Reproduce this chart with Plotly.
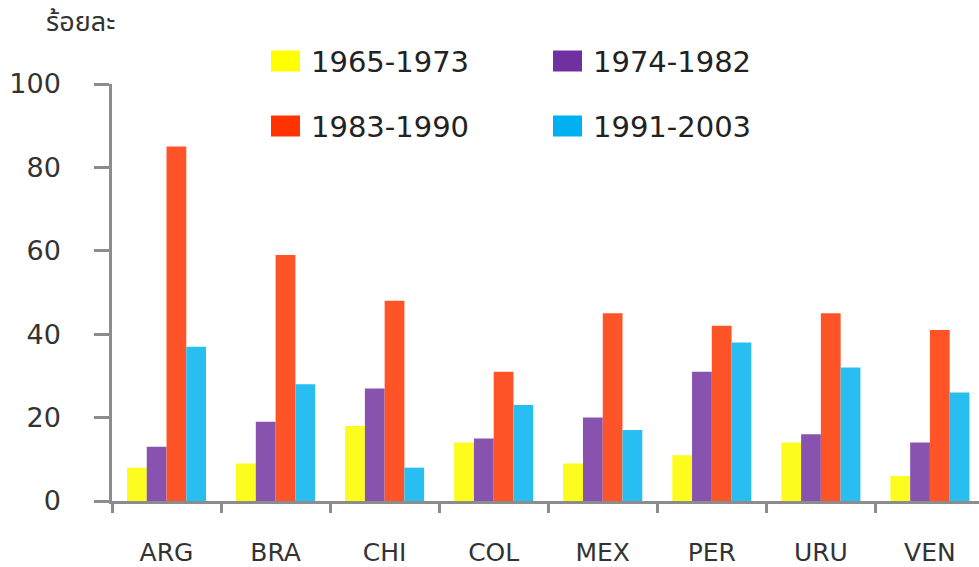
import plotly.graph_objects as go

categories = ["ARG", "BRA", "CHI", "COL", "MEX", "PER", "URU", "VEN"]
series_names = ["1965-1973", "1974-1982", "1983-1990", "1991-2003"]
v_1965_1973 = [8, 9, 18, 14, 9, 11, 14, 6]
v_1974_1982 = [13, 19, 27, 15, 20, 31, 16, 14]
v_1983_1990 = [85, 59, 48, 31, 45, 42, 45, 41]
v_1991_2003 = [37, 28, 8, 23, 17, 38, 32, 26]
y_ticks = [0, 20, 40, 60, 80, 100]
y_unit = "ร้อยละ"

series_values = [v_1965_1973, v_1974_1982, v_1983_1990, v_1991_2003]
bar_colors = ["#FCFC1E", "#8753AE", "#FF5428", "#28BEF2"]
legend_colors = ["#FFFF00", "#7030A0", "#FF3300", "#00B0F0"]

W, H = 979, 567
L, R, T, B = 112, 979, 84, 501

def px_x(px):
    return (px - L) / (R - L)

def px_y(py):
    return (B - py) / (B - T)

fig = go.Figure()
for name, vals, col in zip(series_names, series_values, bar_colors):
    fig.add_trace(go.Bar(x=categories, y=vals, name=name, marker=dict(color=col, line=dict(width=0)),
                         showlegend=False))

font_family = "DejaVu Sans, Verdana, sans-serif"
axis_col = "#8C8C8C"

fig.update_layout(
    width=W, height=H,
    margin=dict(l=L, r=W - R, t=T, b=H - B, autoexpand=False),
    paper_bgcolor="white", plot_bgcolor="white",
    barmode="group", bargap=0.275, bargroupgap=0,
    font=dict(family=font_family, color="#333333"),
)
fig.update_xaxes(
    range=[-0.5, 7.45], showgrid=False, showline=True, linecolor=axis_col, linewidth=2.5,
    ticks="outside", tickson="boundaries", ticklen=9, tickwidth=2.5, tickcolor=axis_col,
    tickfont=dict(size=25, color="#333333"), ticklabelstandoff=27, automargin=False,
)
fig.update_yaxes(
    range=[0, 100], showgrid=False, showline=True, linecolor=axis_col, linewidth=2.5,
    ticks="outside", ticklen=15, tickwidth=2.5, tickcolor=axis_col,
    tickvals=y_ticks, ticktext=[str(v) for v in y_ticks],
    tickfont=dict(size=27, color="#333333"), ticklabelstandoff=28, zeroline=False, automargin=False,
)

# unit label
fig.add_annotation(xref="paper", yref="paper", x=px_x(44), y=px_y(22), xanchor="left", yanchor="middle",
                   text=y_unit, showarrow=False,
                   font=dict(size=27, color="#333333", family="Noto Sans Thai, Tahoma, DejaVu Sans, sans-serif"))

# legend (2x2)
sq_x = [271, 553]
row_y = [61, 126]
for i, (name, col) in enumerate(zip(series_names, legend_colors)):
    cx = sq_x[i % 2]
    cy = row_y[i // 2]
    fig.add_shape(type="rect", xref="paper", yref="paper",
                  x0=px_x(cx), x1=px_x(cx + 29), y0=px_y(cy - 10.5), y1=px_y(cy + 10.5),
                  fillcolor=col, line=dict(width=0))
    fig.add_annotation(xref="paper", yref="paper", x=px_x(cx + 38), y=px_y(cy + 1),
                       xanchor="left", yanchor="middle", text=name, showarrow=False,
                       font=dict(size=29, color="#222222", family=font_family))

fig.write_html("out.html", config={"displayModeBar": False},
               post_script="document.body.style.margin='0';document.body.style.overflow='hidden';")
